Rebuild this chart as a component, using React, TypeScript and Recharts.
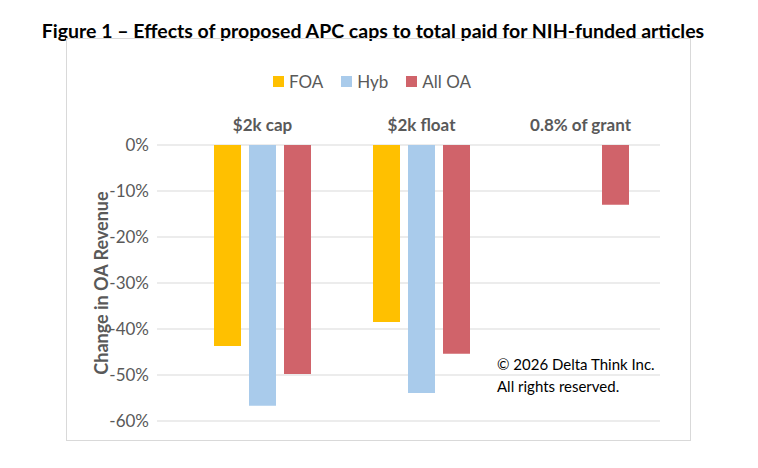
import React from 'react';
import { BarChart, Bar, XAxis, YAxis, CartesianGrid } from 'recharts';

const categories = ['$2k cap', '$2k float', '0.8% of grant'];
const foa = [-0.437, -0.385, null];
const hyb = [-0.567, -0.539, null];
const allOA = [-0.498, -0.454, -0.13];
const yTicks = [0, -0.1, -0.2, -0.3, -0.4, -0.5, -0.6];

const data = categories.map((c, i) => ({ cat: c, FOA: foa[i], Hyb: hyb[i], AllOA: allOA[i] }));
const font = 'Lato, "Open Sans", sans-serif';
const legend = [
  { name: 'FOA', color: '#FFC000' },
  { name: 'Hyb', color: '#A9CBEB' },
  { name: 'All OA', color: '#D0636A' },
];

export default function App() {
  return (
    <div style={{ position: 'absolute', left: 0, top: 0, width: 758, height: 468, background: '#fff', fontFamily: font }}>
      <div style={{ position: 'absolute', left: 0, width: 746, top: 19, textAlign: 'center', fontWeight: 700, fontSize: 19.5, color: '#000' }}>
        Figure 1 – Effects of proposed APC caps to total paid for NIH-funded articles
      </div>
      <div style={{ position: 'absolute', left: 66, top: 38, width: 623, height: 401, border: '1px solid #d9d9d9' }} />
      <div style={{ position: 'absolute', left: 0, width: 744, top: 71, display: 'flex', justifyContent: 'center', gap: 18, fontSize: 17, color: '#595959' }}>
        {legend.map(l => (
          <div key={l.name} style={{ display: 'flex', alignItems: 'center', gap: 5 }}>
            <span style={{ width: 11, height: 11, background: l.color, display: 'inline-block' }} />
            {l.name}
          </div>
        ))}
      </div>
      <BarChart width={758} height={468} data={data} margin={{ top: 115, right: 98, bottom: 47, left: 67 }} barSize={27} barGap={8}>
        <CartesianGrid vertical={false} stroke="#d9d9d9" />
        <XAxis dataKey="cat" orientation="top" axisLine={false} tickLine={false} tickMargin={8} padding={{ left: 26, right: 0 }}
          tick={{ fontSize: 17, fontWeight: 700, fill: '#595959', fontFamily: font }} />
        <YAxis domain={[-0.6, 0]} ticks={yTicks} width={90} axisLine={false} tickLine={false}
          tickFormatter={(v: number) => `${Math.round(v * 100)}%`}
          tick={{ fontSize: 17, fill: '#595959', fontFamily: font }}
          label={{ value: 'Change in OA Revenue', angle: -90, position: 'insideLeft', dx: 30, fontSize: 18, fontWeight: 700, fill: '#595959', fontFamily: font, style: { textAnchor: 'middle' } }} />
        <Bar dataKey="FOA" fill="#FFC000" isAnimationActive={false} />
        <Bar dataKey="Hyb" fill="#A9CBEB" isAnimationActive={false} />
        <Bar dataKey="AllOA" fill="#D0636A" isAnimationActive={false} />
      </BarChart>
      <div style={{ position: 'absolute', left: 497, top: 353, fontSize: 15, lineHeight: '22px', color: '#000' }}>
        © 2026 Delta Think Inc.<br />All rights reserved.
      </div>
    </div>
  );
}
